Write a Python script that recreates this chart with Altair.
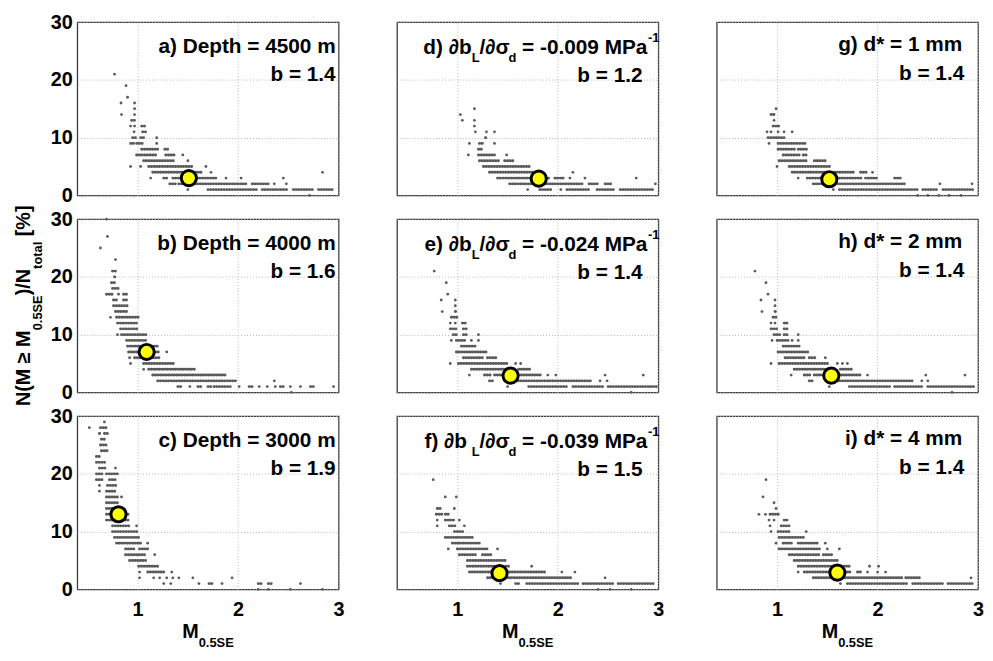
import altair as alt
import pandas as pd

FONT = "Liberation Sans"
DOT = "#5a5a5a"
FRAME = "#3a3a3a"

X_DOMAIN = [0.4, 3.0]
Y_DOMAIN = [0, 30]
X_TICKS = [1, 2, 3]
Y_TICKS = [0, 10, 20, 30]

W, H = 264, 175

# rows: (percentage, [single M values, or (M_start, M_end) runs of dots])
ROWS_A = [
    (21, [0.77]), (19, [0.885]), (17, [0.90]), (16, [0.835, 0.97]), (15, [0.97]),
    (14, [0.84, 0.97]), (13, [(0.94, 0.99)]), (12, [0.93, 0.97, (1.04, 1.08)]),
    (11, [0.965, (1.05, 1.09)]), (10, [(0.95, 0.99), (1.03, 1.08), 1.19]),
    (9, [(0.93, 0.96), (0.99, 1.06), 1.19]), (8, [(1.04, 1.20), (1.27, 1.31)]),
    (7, [(0.99, 1.20), (1.28, 1.38), 1.45]), (6, [(1.06, 1.37), 1.50]),
    (5, [0.93, 1.03, (1.11, 1.56), 1.68]), (4, [(1.15, 1.65), 1.73, 2.84]),
    (3, [1.13, (1.26, 1.31), (1.35, 1.80), 1.88, 2.03, 2.45]),
    (2, [(1.32, 1.38), (1.41, 2.10), (2.14, 2.30), 2.36, 2.48]),
    (1, [1.50, (1.70, 2.20), (2.24, 2.50), (2.55, 2.75), (2.80, 2.95)]),
    (0, [2.71]),
]
ROWS_B = [
    (30, [0.69]), (27, [0.70]), (25, [0.63]), (23, [0.78]), (21, [(0.75, 0.80)]),
    (20, [(0.77, 0.79)]), (19, [(0.74, 0.77)]), (18, [(0.75, 0.81)]),
    (17, [(0.69, 0.76), 0.81, (0.86, 0.90)]), (16, [(0.76, 0.81), (0.86, 0.91)]),
    (15, [(0.76, 0.91)]), (14, [(0.78, 0.91)]), (13, [0.73, (0.79, 1.01)]),
    (12, [(0.80, 1.01)]), (11, [(0.83, 1.01)]), (10, [0.80, (0.84, 1.10)]),
    (9, [(0.89, 1.10)]), (8, [(0.90, 1.20)]), (7, [(0.91, 1.12), (1.15, 1.22), 1.29]),
    (6, [0.92, (0.97, 1.22)]), (5, [0.93, (1.06, 1.37)]), (4, [1.06, (1.11, 1.58)]),
    (3, [(1.15, 1.87)]), (2, [(1.20, 1.98), 2.36]),
    (1, [(1.40, 1.45), 1.52, (1.60, 1.63), (1.70, 1.73), (1.76, 1.94), 2.01,
         (2.11, 2.14), 2.21, 2.29, 2.37, (2.42, 2.45), 2.52, 2.62, (2.72, 2.75), 2.95]),
    (0, [2.53]),
]
ROWS_C = [
    (29, [0.67]), (28, [0.52, (0.63, 0.70)]), (27, [(0.62, 0.64), (0.67, 0.70)]),
    (26, [(0.64, 0.69)]), (25, [(0.63, 0.69)]), (24, [(0.64, 0.70)]), (23, [(0.59, 0.64)]),
    (22, [(0.59, 0.69)]), (21, [(0.62, 0.69), 0.78]), (20, [(0.59, 0.65), (0.69, 0.80)]),
    (19, [(0.59, 0.65), (0.72, 0.79)]), (18, [0.62, (0.70, 0.79)]), (17, [0.62, (0.69, 0.79)]),
    (16, [(0.69, 0.80), 0.84]), (15, [(0.69, 0.80)]), (14, [(0.69, 0.83)]), (13, [(0.69, 0.92)]),
    (12, [(0.69, 0.92)]), (11, [(0.75, 0.92), 0.99]), (10, [(0.75, 1.00)]), (9, [(0.77, 1.01)]),
    (8, [(0.79, 1.03), 1.10]), (7, [(0.88, 0.97), (1.02, 1.10)]), (6, [(0.88, 1.08), 1.17]),
    (5, [(0.92, 1.08)]), (4, [(1.01, 1.20)]), (3, [1.02, (1.10, 1.26), 1.34]),
    (2, [1.02, 1.16, 1.22, 1.29, 1.35, 1.41, 1.55, 1.94]),
    (1, [1.26, 1.33, 1.61, (1.71, 1.76), 1.84, (2.20, 2.23), (2.30, 2.33), 2.62]),
    (0, [2.20, 2.30, 2.52, 2.84]),
]
ROWS_D = [
    (15, [1.17]), (14, [1.03]), (13, [1.05, 1.17]), (12, [1.17]), (11, [1.18, 1.29, 1.37]),
    (10, [(1.28, 1.30)]), (9, [1.12, (1.22, 1.27), 1.37]), (8, [(1.21, 1.26)]),
    (7, [1.11, (1.21, 1.37), 1.49]), (6, [(1.22, 1.42), (1.47, 1.57)]), (5, [(1.26, 1.72)]),
    (4, [(1.32, 1.75), 2.15]), (3, [(1.40, 1.92), (1.97, 2.06), 2.12, 2.27, 2.78]),
    (2, [(1.52, 2.26), (2.31, 2.41), (2.47, 2.54), 2.97]),
    (1, [1.70, (1.82, 1.95), 2.03, (2.09, 2.31), (2.39, 2.57), (2.62, 2.95)]),
]
ROWS_E = [
    (21, [0.77]), (19, [0.89]), (17, [0.905]), (16, [0.84, 0.98]), (15, [0.98]),
    (14, [0.85, (0.98, 1.00)]), (13, [(0.94, 1.00)]), (12, [0.93, 0.98, (1.05, 1.09)]),
    (11, [(0.93, 1.00), (1.06, 1.09)]), (10, [(0.96, 1.01), (1.06, 1.11), 1.21]),
    (9, [0.94, (0.99, 1.09), 1.14, 1.21]), (8, [(1.04, 1.19)]), (7, [(0.99, 1.30)]),
    (6, [(1.06, 1.26), (1.30, 1.39)]), (5, [0.93, (1.01, 1.50), 1.58, 1.63]),
    (4, [(1.14, 1.58), (1.61, 1.73)]),
    (3, [1.12, (1.27, 1.34), (1.37, 1.83), 1.90, 1.98, 2.47, 2.85]),
    (2, [(1.32, 1.37), (1.47, 2.34), 2.42, 2.49]),
    (1, [1.50, (1.71, 2.10), (2.15, 2.45), (2.50, 2.98)]),
    (0, [2.73]),
]
ROWS_F = [
    (19, [0.76]), (16, [0.88, 0.99]), (14, [(0.80, 0.85), 0.97]),
    (13, [(0.79, 0.85), (0.88, 0.93)]), (12, [0.80, (0.88, 0.98), 1.02]),
    (11, [0.80, (0.92, 0.98), 1.07]), (10, [(0.97, 1.07)]), (9, [(0.88, 1.17)]),
    (8, [(0.95, 1.23)]), (7, [0.91, (1.00, 1.31), 1.40]), (6, [(1.02, 1.18), (1.25, 1.35)]),
    (5, [(1.10, 1.48)]), (4, [(1.10, 1.38), (1.48, 1.53), 1.74]),
    (3, [(1.12, 1.89), 2.04, 2.17]), (2, [(1.30, 2.15), 2.47]),
    (1, [1.43, (1.58, 1.62), (1.69, 2.20), (2.25, 2.55), (2.60, 2.96)]),
    (0, [2.40, 2.52, 2.73]),
]
ROWS_G = [
    (15, [0.99]), (14, [(0.94, 0.97)]), (13, [0.97]), (12, [(0.96, 1.02)]),
    (11, [0.90, 0.94, 1.01, 1.07, 1.15]), (10, [(0.91, 1.07)]), (9, [0.92, (1.01, 1.29)]),
    (8, [(1.01, 1.18), (1.21, 1.30)]), (7, [(1.06, 1.22), (1.26, 1.30)]),
    (6, [(1.02, 1.30), (1.37, 1.48)]), (5, [1.00, (1.12, 1.53)]),
    (4, [(1.15, 1.52), (1.57, 1.76), (1.83, 1.89), 1.95]),
    (3, [1.21, (1.30, 1.84), (1.88, 2.00), (2.17, 2.24)]),
    (2, [(1.36, 2.28), 2.62, 2.94]),
    (1, [1.56, (1.62, 2.40), (2.45, 2.60), (2.65, 2.95)]),
    (0, [2.40, 2.50, 2.61, 2.71, 2.83]),
]
ROWS_H = [
    (21, [0.78]), (19, [0.89]), (17, [0.91]), (16, [0.84, 0.98]), (15, [0.98]),
    (14, [0.85, (0.98, 1.00)]), (13, [(0.96, 1.00)]), (12, [0.94, 0.98, (1.07, 1.10)]),
    (11, [(0.94, 1.01), (1.07, 1.10)]), (10, [(0.97, 1.03), (1.07, 1.11), 1.21]),
    (9, [0.95, (1.00, 1.11), 1.15, 1.21]), (8, [(1.06, 1.22)]), (7, [(1.01, 1.32)]),
    (6, [(1.08, 1.27), (1.32, 1.39), 1.48]), (5, [0.94, (1.02, 1.52), 1.60, 1.65, 1.70]),
    (4, [(1.17, 1.59), (1.63, 1.75)]),
    (3, [1.14, (1.27, 1.34), (1.37, 1.83), 1.90, 2.48, 2.87]),
    (2, [(1.32, 1.37), (1.49, 2.36), 2.44, 2.50]),
    (1, [1.52, (1.72, 2.12), (2.17, 2.45), (2.50, 2.96)]),
    (0, [2.74]),
]
ROWS_I = [
    (19, [0.89]), (16, [0.86]), (15, [0.97]), (14, [0.99]),
    (13, [0.82, 0.885, (0.93, 1.02)]), (12, [0.92, 0.97, (1.07, 1.12)]),
    (11, [0.93, (1.04, 1.12)]), (10, [0.94, (1.01, 1.12), 1.29]), (9, [(1.02, 1.28)]),
    (8, [0.99, (1.06, 1.16), (1.21, 1.41), 1.48]), (7, [(1.02, 1.43), 1.50, 1.62]),
    (6, [(1.12, 1.43), (1.46, 1.55)]), (5, [(1.17, 1.62)]),
    (4, [(1.21, 1.72), 1.92, 2.01]),
    (3, [1.21, (1.27, 1.74), (1.80, 1.85), 1.90, 2.00, 2.08]),
    (2, [(1.36, 2.25), (2.28, 2.43), 2.93]),
    (1, [1.63, (1.70, 2.30), (2.35, 2.65), (2.70, 2.96)]),
]

MEAN = {
    "a": (1.51, 3.0), "b": (1.09, 7.0), "c": (0.81, 13.0),
    "d": (1.81, 2.9), "e": (1.53, 2.9), "f": (1.42, 2.8),
    "g": (1.52, 2.8), "h": (1.54, 2.9), "i": (1.60, 2.9),
}
B_VALUES = {"a": "1.4", "b": "1.6", "c": "1.9", "d": "1.2", "e": "1.4",
            "f": "1.5", "g": "1.4", "h": "1.4", "i": "1.4"}
DEPTHS = {"a": "4500", "b": "4000", "c": "3000"}
SLOPES = {"d": "-0.009", "e": "-0.024", "f": "-0.039"}
GRAINS = {"g": "1", "h": "2", "i": "4"}
ROWS = {"a": ROWS_A, "b": ROWS_B, "c": ROWS_C, "d": ROWS_D, "e": ROWS_E,
        "f": ROWS_F, "g": ROWS_G, "h": ROWS_H, "i": ROWS_I}
LAYOUT = [["a", "d", "g"], ["b", "e", "h"], ["c", "f", "i"]]

# Arial/Liberation Sans Bold advance widths (per 1000 em) for text layout
AW = {' ': 278, '(': 333, ')': 333, '*': 389, '-': 333, '.': 278, '/': 278, '=': 584,
      '\u2265': 549, '[': 333, ']': 333, '%': 889, '\u2202': 494, '\u03c3': 617,
      'D': 722, 'E': 667, 'L': 611, 'M': 833, 'N': 722, 'P': 667, 'S': 667,
      'a': 556, 'b': 611, 'd': 611, 'e': 556, 'g': 611, 'h': 611, 'i': 278,
      'l': 278, 'm': 889, 'o': 611, 'p': 611, 't': 333}

FS = 21      # panel annotation size
FS_SUB = 13  # sub/superscript size


def tw(s, size):
    return sum(AW.get(ch, 556) for ch in s) * size / 1000.0


ONE = pd.DataFrame({"k": [0]})


def txt(s, x, y, size=FS, align="left", angle=None):
    kw = dict(text=s, align=align, baseline="alphabetic", font=FONT,
              fontWeight="bold", fontSize=size, color="black")
    if angle is not None:
        kw["angle"] = angle
    return alt.Chart(ONE).mark_text(**kw).encode(x=alt.value(x), y=alt.value(y))


def run_pieces(pieces, start, vertical=False):
    """Lay out (text, size, offset) pieces one after another; leading spaces
    are turned into an advance because SVG collapses them."""
    out = []
    pos = start
    for s, fs, off in pieces:
        lead = len(s) - len(s.lstrip(" "))
        pos += (-1 if vertical else 1) * tw(" " * lead, fs)
        body = s.lstrip(" ")
        if vertical:
            out.append(txt(body, off, pos, size=fs, angle=270))
            pos -= tw(body, fs)
        else:
            out.append(txt(body, pos, off, size=fs))
            pos += tw(body, fs)
    return out, pos


def panel(key, r, c):
    rows = ROWS[key]
    runs = [{"y": y, "x0": it[0], "x1": it[1]} for y, items in rows for it in items
            if isinstance(it, tuple)]
    singles = [{"y": y, "x": it} for y, items in rows for it in items
               if not isinstance(it, tuple)]
    xs = alt.Scale(domain=X_DOMAIN, nice=False, zero=False)
    ys = alt.Scale(domain=Y_DOMAIN, nice=False, zero=False)
    xax = alt.Axis(values=X_TICKS, labels=(r == 2), title=None, grid=True,
                   labelPadding=10, labelFlush=False)
    yax = alt.Axis(values=Y_TICKS, labels=(c == 0), title=None, grid=True,
                   labelPadding=5)
    run_layer = alt.Chart(pd.DataFrame(runs)).mark_rule(
        color=DOT, strokeWidth=2.9, strokeCap="round", strokeDash=[0.3, 2.4]
    ).encode(x=alt.X("x0:Q", scale=xs, axis=xax), x2="x1:Q",
             y=alt.Y("y:Q", scale=ys, axis=yax))
    dot_layer = alt.Chart(pd.DataFrame(singles)).mark_circle(
        color=DOT, size=8, opacity=1
    ).encode(x=alt.X("x:Q", scale=xs, axis=xax), y=alt.Y("y:Q", scale=ys, axis=yax))
    mx, my = MEAN[key]
    mean_layer = alt.Chart(pd.DataFrame({"x": [mx], "y": [my]})).mark_circle(
        fill="#ffff00", stroke="#000000", strokeWidth=3, size=235, opacity=1,
        fillOpacity=1
    ).encode(x=alt.X("x:Q", scale=xs, axis=xax), y=alt.Y("y:Q", scale=ys, axis=yax))

    texts = []
    if c == 0:
        texts.append(txt(f"{key}) Depth = {DEPTHS[key]} m", W - 3, 31, align="right"))
        texts.append(txt(f"b = {B_VALUES[key]}", W - 3, 59, align="right"))
    elif c == 1:
        pieces = [(f"{key}) \u2202b", FS, 32), ("L", FS_SUB, 40),
                  ("/\u2202\u03c3", FS, 32), ("d", FS_SUB, 40),
                  (f" = {SLOPES[key]} MPa", FS, 32)]
        right = W - 11
        start = right - sum(tw(s, fs) for s, fs, _ in pieces)
        made, end = run_pieces(pieces, start)
        texts.extend(made)
        texts.append(txt("-1", end + 0.5, 20, size=FS_SUB))
        texts.append(txt(f"b = {B_VALUES[key]}", W - 16, 60, align="right"))
    else:
        texts.append(txt(f"{key}) d* = {GRAINS[key]} mm", W - 16, 29, align="right"))
        texts.append(txt(f"b = {B_VALUES[key]}", W - 14, 58, align="right"))

    if r == 2:
        cx = W / 2.0
        total = tw("M", 20) + tw("0.5SE", FS_SUB)
        x0 = cx - total / 2.0
        texts.append(txt("M", x0, H + 49, size=20))
        texts.append(txt("0.5SE", x0 + tw("M", 20), H + 58, size=FS_SUB))

    if r == 1 and c == 0:
        pieces = [("N(M \u2265 M", 20, -48), ("0.5SE", FS_SUB, -36), (")/N", 20, -48),
                  ("total", FS_SUB, -36), (" [%]", 20, -48)]
        total = sum(tw(s, fs) for s, fs, _ in pieces)
        center = (-(H + 24) + (2 * H + 24)) / 2.0
        made, _ = run_pieces(pieces, center + total / 2.0, vertical=True)
        texts.extend(made)

    return alt.layer(run_layer, dot_layer, mean_layer, *texts).properties(width=W, height=H)


panels = [panel(LAYOUT[r][c], r, c) for r in range(3) for c in range(3)]

chart = alt.concat(
    *panels, columns=3, spacing={"row": 24, "column": 59}, bounds="flush"
).configure_view(
    stroke=FRAME, strokeWidth=1.3
).configure_axis(
    labelFont=FONT, labelFontSize=20, labelFontWeight="bold", labelColor="black",
    gridColor="#b8b8b8", gridDash=[1, 2], gridWidth=1, ticks=False, tickSize=0,
    domain=False
).properties(
    padding={"left": 5, "top": 0, "right": 0, "bottom": 0}, background="white"
)

chart.save("out.html", embed_options={"renderer": "svg", "actions": False})
